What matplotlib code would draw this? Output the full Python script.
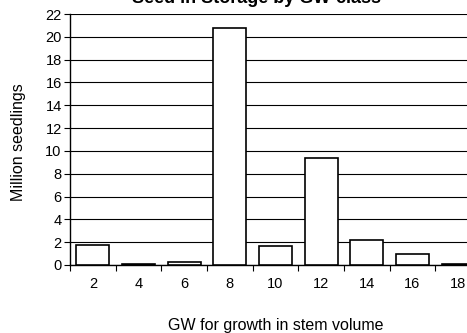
import matplotlib
matplotlib.use("Agg")
import matplotlib.pyplot as plt
import numpy as np

plt.rcParams['font.family'] = ['Liberation Sans', 'DejaVu Sans']

categories = ["2", "4", "6", "8", "10", "12", "14", "16", "18"]
values = [1.73, 0.05, 0.3, 20.75, 1.7, 9.35, 2.2, 1.0, 0.08]

fig = plt.figure(figsize=(4.67, 3.33), dpi=100)
W, H = 467, 333
left, right, top, bottom = 70, 481, 14, 265
ax = fig.add_axes([left / W, (H - bottom) / H, (right - left) / W, (bottom - top) / H])

x = np.arange(len(categories))
ax.bar(x, values, width=0.72, color='white', edgecolor='black', linewidth=1.2, zorder=3)
ax.set_xlim(-0.5, len(categories) - 0.5)
ax.set_ylim(0, 22)
ax.set_yticks(np.arange(0, 23, 2))
ax.yaxis.grid(True, color='black', linewidth=0.8, zorder=0)
ax.set_axisbelow(True)

ax.set_xticks(x)
ax.set_xticklabels(categories)
ax.set_xticks(np.arange(-0.5, len(categories), 1), minor=True)
ax.tick_params(axis='x', which='major', length=0, pad=8.5, labelsize=10.5)
ax.tick_params(axis='x', which='minor', length=4, direction='out', width=0.8)
ax.tick_params(axis='y', length=4, direction='out', width=0.8, labelsize=10.5, pad=2)

for s in ['top', 'right']:
    ax.spines[s].set_visible(False)
ax.spines['left'].set_linewidth(1.0)
ax.spines['bottom'].set_linewidth(1.0)

fig.text(19 / W, 1 - 142 / H, "Million seedlings", ha='center', va='center',
         rotation=90, fontsize=11.5)
fig.text(276 / W, 1 - 330 / H, "GW for growth in stem volume", ha='center', va='baseline', fontsize=11.5)
fig.text(257 / W, 1 - 3 / H, "Seed in Storage by GW-class", ha='center', va='baseline',
         fontsize=13, fontweight='bold')

fig.savefig("out.png", dpi=100)
